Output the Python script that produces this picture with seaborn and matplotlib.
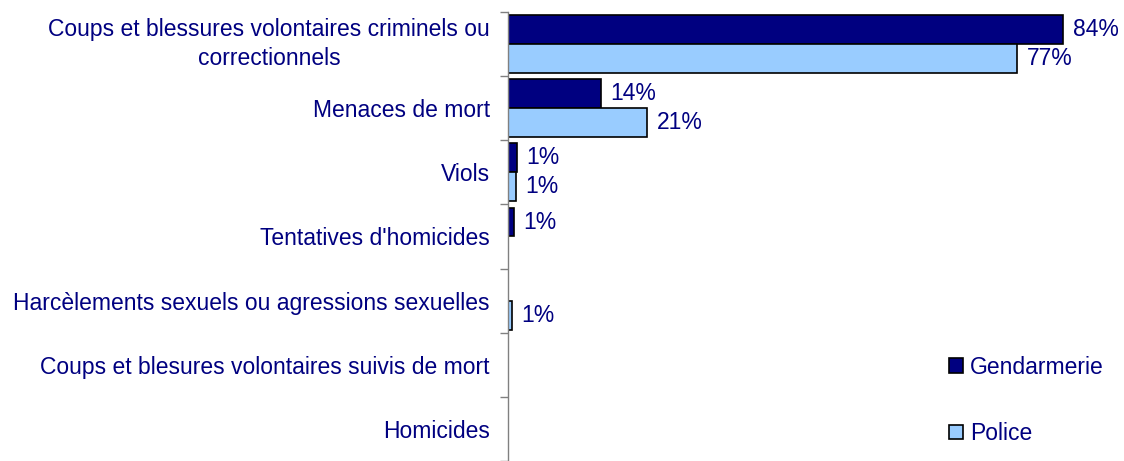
import matplotlib
matplotlib.use("Agg")
import matplotlib.pyplot as plt
import seaborn as sns
import pandas as pd
import numpy as np
from matplotlib.patches import Patch

categories = [
    "Coups et blessures volontaires criminels ou\ncorrectionnels",
    "Menaces de mort",
    "Viols",
    "Tentatives d'homicides",
    "Harcèlements sexuels ou agressions sexuelles",
    "Coups et blesures volontaires suivis de mort",
    "Homicides",
]
gendarmerie = [84, 14, 1.3, 0.9, 0, 0, 0]
police = [77, 21, 1.2, 0, 0.6, 0, 0]
gend_labels = ["84%", "14%", "1%", "1%", "", "", ""]
police_labels = ["77%", "21%", "1%", "", "1%", "", ""]
series = ["Gendarmerie", "Police"]
colors = ["#000080", "#99CCFF"]

df = pd.DataFrame({
    "cat": categories * 2,
    "val": gendarmerie + police,
    "serie": [series[0]] * len(categories) + [series[1]] * len(categories),
})

sns.set_style("white")
plt.rcParams["font.family"] = ["Liberation Sans", "DejaVu Sans"]
navy = "#000080"
fs = 16.5

fig = plt.figure(figsize=(11.24, 4.61), dpi=100)
ax = fig.add_axes([0.452, 0.0, 0.529, 0.974])
sns.barplot(data=df, y="cat", x="val", hue="serie", orient="h",
            palette=colors, saturation=1, width=0.9, edgecolor="black", linewidth=1.2,
            order=categories, hue_order=series, ax=ax, legend=False)

for cont in ax.containers:
    for p in cont.patches:
        if p.get_width() == 0:
            p.set_visible(False)

for cont, labs in zip(ax.containers, [gend_labels, police_labels]):
    ax.bar_label(cont, labels=labs, padding=7, color=navy, fontsize=fs)

ax.set_xlim(0, 90)
ax.set_ylim(6.5, -0.5)
ax.set_xlabel("")
ax.set_ylabel("")
ax.set_xticks([])
for s in ["top", "right", "bottom"]:
    ax.spines[s].set_visible(False)
ax.spines["left"].set_color("#808080")
ax.spines["left"].set_linewidth(1)

ax.set_yticks(range(len(categories)))
ax.set_yticklabels(categories, color=navy, fontsize=fs, ha="right",
                   multialignment="center", linespacing=1.35)
ax.tick_params(axis="y", which="major", length=0, pad=13)
ax.set_yticks(np.arange(-0.5, len(categories), 1.0), minor=True)
ax.tick_params(axis="y", which="minor", left=True, length=6, color="#808080",
               width=1, direction="out")
# nudge the two-line label up slightly, as in the reference
import matplotlib.transforms as mtrans
first = ax.get_yticklabels()[0]
first.set_transform(first.get_transform() + mtrans.ScaledTranslation(0, 4 / 72, fig.dpi_scale_trans))

handles = [Patch(facecolor=c, edgecolor="black", linewidth=1.2) for c in colors]
leg = ax.legend(handles, series, loc="upper left", bbox_to_anchor=(0.727, 0.255),
                frameon=False, handlelength=0.6, handleheight=0.6, handletextpad=0.3,
                labelspacing=1.9, fontsize=fs, borderaxespad=0)
for t in leg.get_texts():
    t.set_color(navy)

fig.savefig("out.png", dpi=100)
